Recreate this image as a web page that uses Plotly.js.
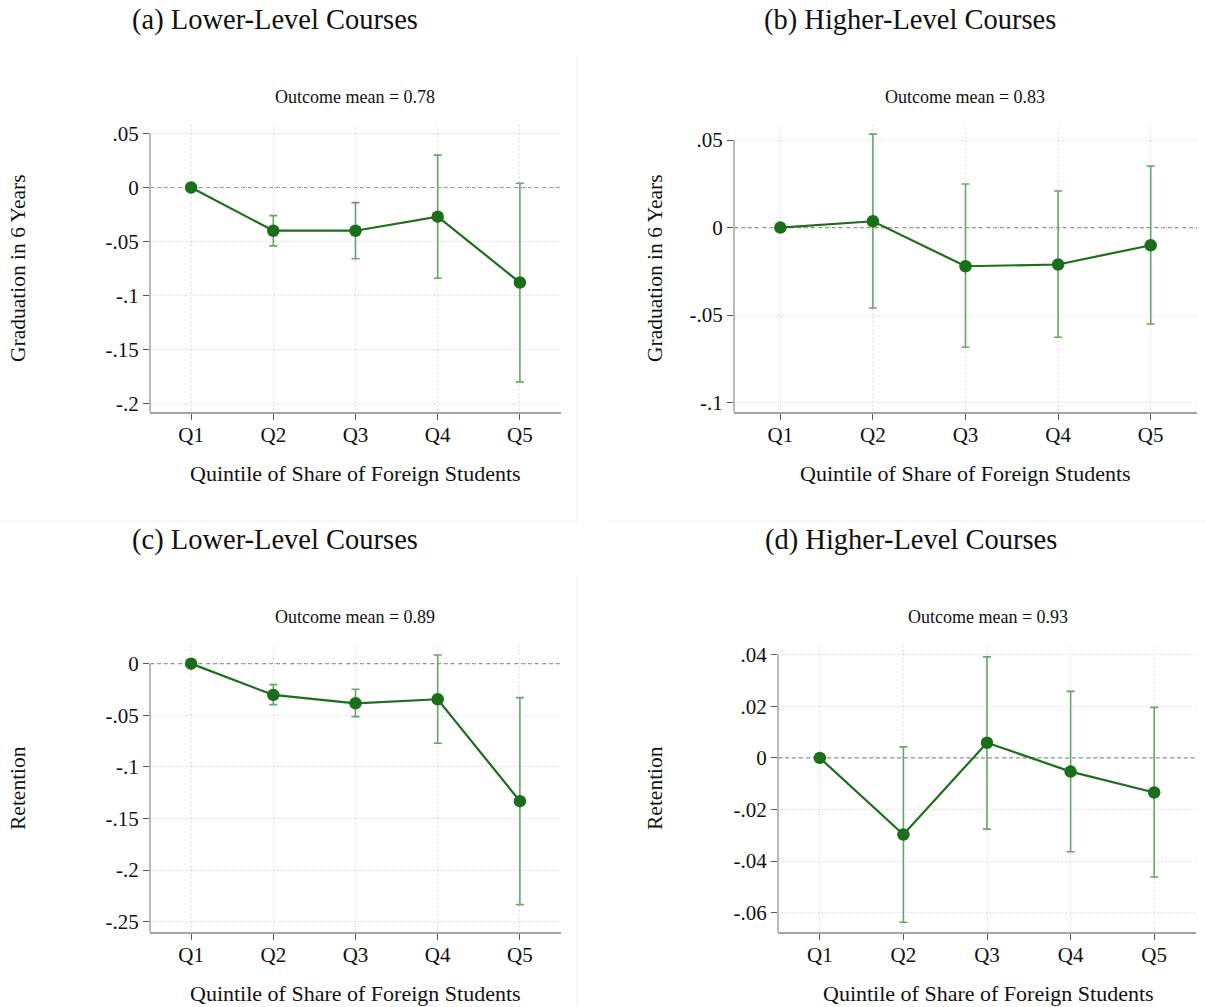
<!DOCTYPE html>
<html>
<head>
<meta charset="utf-8">
<script src="https://cdn.plot.ly/plotly-3.0.1.min.js"></script>
<style>
  html, body { margin: 0; padding: 0; background: #ffffff; }
  #chart { width: 1206px; height: 1007px; }
</style>
</head>
<body>
<div id="chart"></div>
<script>
// ---------------- data ----------------
const categories = ["Q1", "Q2", "Q3", "Q4", "Q5"];

// (a) Lower-level courses, graduation in 6 years
const gradLowCoef  = [0, -0.040, -0.040, -0.027, -0.088];
const gradLowLo    = [0, -0.054, -0.066, -0.084, -0.180];
const gradLowHi    = [0, -0.026, -0.014,  0.030,  0.004];

// (b) Higher-level courses, graduation in 6 years
const gradHighCoef = [0,  0.0036, -0.0221, -0.0211, -0.0101];
const gradHighLo   = [0, -0.0460, -0.0684, -0.0627, -0.0551];
const gradHighHi   = [0,  0.0534,  0.0249,  0.0209,  0.0352];

// (c) Lower-level courses, retention
const retLowCoef   = [0, -0.0303, -0.0384, -0.0345, -0.1332];
const retLowLo     = [0, -0.0397, -0.0513, -0.0771, -0.2335];
const retLowHi     = [0, -0.0203, -0.0248,  0.0084, -0.0329];

// (d) Higher-level courses, retention
const retHighCoef  = [0, -0.0297,  0.0059, -0.0053, -0.0134];
const retHighLo    = [0, -0.0637, -0.0276, -0.0364, -0.0462];
const retHighHi    = [0,  0.0043,  0.0392,  0.0258,  0.0196];

const panelTitles   = ["(a) Lower-Level Courses", "(b) Higher-Level Courses",
                       "(c) Lower-Level Courses", "(d) Higher-Level Courses"];
const outcomeMeans  = ["Outcome mean = 0.78", "Outcome mean = 0.83",
                       "Outcome mean = 0.89", "Outcome mean = 0.93"];
const yTitles       = ["Graduation in 6 Years", "Graduation in 6 Years", "Retention", "Retention"];
const xTitle        = "Quintile of Share of Foreign Students";

const yTickVals = [
  [0.05, 0, -0.05, -0.1, -0.15, -0.2],
  [0.05, 0, -0.05, -0.1],
  [0, -0.05, -0.1, -0.15, -0.2, -0.25],
  [0.04, 0.02, 0, -0.02, -0.04, -0.06]
];
const yTickText = [
  [".05", "0", "-.05", "-.1", "-.15", "-.2"],
  [".05", "0", "-.05", "-.1"],
  ["0", "-.05", "-.1", "-.15", "-.2", "-.25"],
  [".04", ".02", "0", "-.02", "-.04", "-.06"]
];

// ---------------- layout geometry (pixels) ----------------
const W = 1206, H = 1007;
const px = v => v / W;
const py = v => 1 - v / H;

const panels = [
  {coef: gradLowCoef,  lo: gradLowLo,  hi: gradLowHi,  x0: 150, x1: 561,  y0: 125, y1: 412, yr: [-0.2079, 0.0579],
   titleX: 275, titleY: 20, meanX: 355, meanY: 97, ytX: 18, ytY: 268, xtX: 355, xtY: 473},
  {coef: gradHighCoef, lo: gradHighLo, hi: gradHighHi, x0: 734, x1: 1197, y0: 125, y1: 412, yr: [-0.1054, 0.0586],
   titleX: 910, titleY: 20, meanX: 965, meanY: 97, ytX: 655, ytY: 268, xtX: 965, xtY: 473},
  {coef: retLowCoef,   lo: retLowLo,   hi: retLowHi,   x0: 150, x1: 561,  y0: 646, y1: 932, yr: [-0.2600, 0.0171],
   titleX: 275, titleY: 540, meanX: 355, meanY: 617, ytX: 18, ytY: 788, xtX: 355, xtY: 993},
  {coef: retHighCoef,  lo: retHighLo,  hi: retHighHi,  x0: 778, x1: 1196, y0: 646, y1: 932, yr: [-0.0675, 0.0434],
   titleX: 911, titleY: 540, meanX: 988, meanY: 617, ytX: 655, ytY: 788, xtX: 988, xtY: 993}
];

const SERIF = "Liberation Serif, Times New Roman, serif";
const lineColor = "#1b6f1b";
const errColor = "#67a667";
const axisGray = "#a3a3a3";
const gridGray = "#cbcbcb";

const xPos = categories.map((c, i) => i + 1);

const traces = [];
const layout = {
  width: W, height: H,
  margin: {l: 0, r: 0, t: 0, b: 0},
  paper_bgcolor: "#ffffff",
  plot_bgcolor: "#ffffff",
  showlegend: false,
  font: {family: SERIF, color: "#111111"},
  shapes: [],
  annotations: []
};

panels.forEach((p, k) => {
  const sfx = k === 0 ? "" : String(k + 1);
  const xa = "x" + sfx, ya = "y" + sfx;

  traces.push({
    type: "scatter", mode: "lines+markers",
    x: xPos, y: p.coef, xaxis: xa, yaxis: ya,
    line: {color: lineColor, width: 2.2},
    marker: {color: lineColor, size: 12.5},
    error_y: {
      type: "data", symmetric: false,
      array: p.hi.map((v, i) => v - p.coef[i]),
      arrayminus: p.coef.map((v, i) => v - p.lo[i]),
      color: errColor, thickness: 1.6, width: 4
    },
    hoverinfo: "skip"
  });

  layout["xaxis" + sfx] = {
    domain: [px(p.x0), px(p.x1)],
    range: [0.5, 5.5],
    anchor: ya,
    tickvals: xPos, ticktext: categories,
    showgrid: true, gridcolor: gridGray, griddash: "1px,3px", gridwidth: 1,
    showline: true, linecolor: axisGray, linewidth: 1.5,
    ticks: "outside", ticklen: 6, tickcolor: "#555555", tickwidth: 1,
    ticklabelstandoff: -3,
    zeroline: false, fixedrange: true,
    tickfont: {family: SERIF, size: 21, color: "#111111"}
  };
  layout["yaxis" + sfx] = {
    domain: [py(p.y1), py(p.y0)],
    range: p.yr,
    anchor: xa,
    tickvals: yTickVals[k], ticktext: yTickText[k],
    showgrid: true, gridcolor: gridGray, griddash: "1px,3px", gridwidth: 1,
    showline: false,
    ticks: "outside", ticklen: 6, tickcolor: "#555555", tickwidth: 1,
    zeroline: false, fixedrange: true,
    tickfont: {family: SERIF, size: 21, color: "#111111"}
  };

  // y axis line from bottom of plot region to top tick
  layout.shapes.push({
    type: "line", xref: xa + " domain", yref: ya,
    x0: 0, x1: 0, y0: p.yr[0], y1: Math.max(...yTickVals[k]),
    line: {color: axisGray, width: 1.5}, layer: "above"
  });
  // dashed reference line at zero
  layout.shapes.push({
    type: "line", xref: xa + " domain", yref: ya,
    x0: 0, x1: 1, y0: 0, y1: 0,
    line: {color: "#8c8c8c", width: 1.2, dash: "4px,3px"}, layer: "below"
  });

  layout.annotations.push(
    {text: panelTitles[k], xref: "paper", yref: "paper", x: px(p.titleX), y: py(p.titleY),
     xanchor: "center", yanchor: "middle", showarrow: false,
     font: {family: SERIF, size: 28.5, color: "#111111"}},
    {text: outcomeMeans[k], xref: "paper", yref: "paper", x: px(p.meanX), y: py(p.meanY),
     xanchor: "center", yanchor: "middle", showarrow: false,
     font: {family: SERIF, size: 18, color: "#111111"}},
    {text: yTitles[k], xref: "paper", yref: "paper", x: px(p.ytX), y: py(p.ytY),
     xanchor: "center", yanchor: "middle", showarrow: false, textangle: -90,
     font: {family: SERIF, size: 21.5, color: "#111111"}},
    {text: xTitle, xref: "paper", yref: "paper", x: px(p.xtX), y: py(p.xtY),
     xanchor: "center", yanchor: "middle", showarrow: false,
     font: {family: SERIF, size: 22, color: "#111111"}}
  );
});

// faint panel frames
const frameColor = "#efefef";
[
  [577, 55, 577, 521],
  [0, 521, 577, 521],
  [608, 521, 1206, 521],
  [577, 577, 577, 1007]
].forEach(s => {
  layout.shapes.push({
    type: "line", xref: "paper", yref: "paper",
    x0: px(s[0]), y0: py(s[1]), x1: px(s[2]), y1: py(s[3]),
    line: {color: frameColor, width: 1}, layer: "below"
  });
});

Plotly.newPlot("chart", traces, layout, {staticPlot: true, displayModeBar: false});
</script>
</body>
</html>
